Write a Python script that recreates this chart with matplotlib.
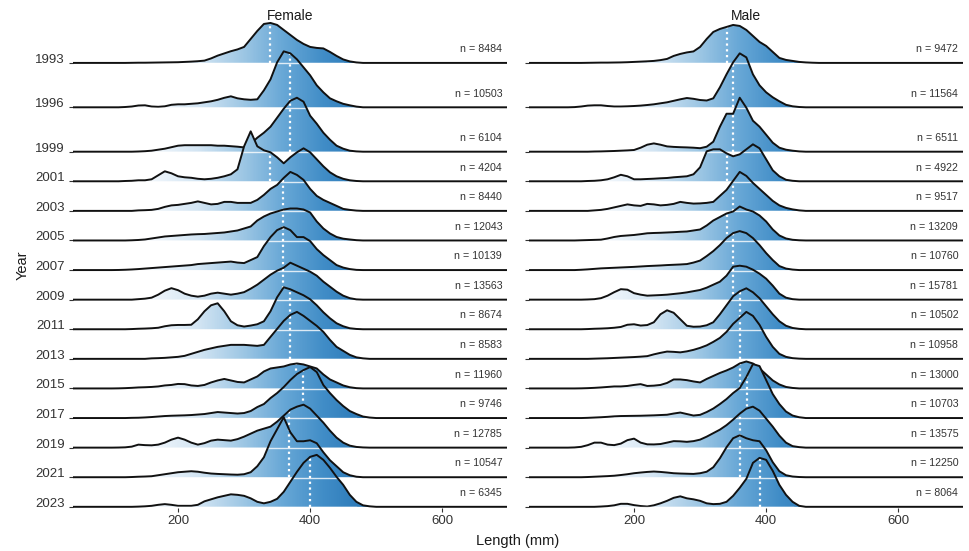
import numpy as np
import matplotlib
matplotlib.use("Agg")
import matplotlib.pyplot as plt
from matplotlib.colors import LinearSegmentedColormap, Normalize
from matplotlib.patches import Polygon
from matplotlib.transforms import blended_transform_factory

plt.rcParams['font.family'] = ['Liberation Sans', 'DejaVu Sans']

# ---------------- data ----------------
years = [1993, 1996, 1999, 2001, 2003, 2005, 2007, 2009, 2011, 2013, 2015, 2017, 2019, 2021, 2023]
lengths = [100, 110, 120, 130, 140, 150, 160, 170, 180, 190,
           200, 210, 220, 230, 240, 250, 260, 270, 280, 290,
           300, 310, 320, 330, 340, 350, 360, 370, 380, 390,
           400, 410, 420, 430, 440, 450, 460, 470, 480, 490,
           500]

# relative density heights at each length (one row per year)
female_density = [
    [0, 0, 0, 0.1, 0.2, 0.2, 0.3, 0.4, 0.5, 0.6,  0.7, 1, 1.3, 1.7, 2.3, 4.5, 7.3, 9.5, 11.7, 13.5,
     16, 24, 32, 39, 40, 38, 33, 28, 23, 19,  16, 15, 14.5, 11, 7, 3.5, 1.5, 0.5, 0, 0,  0],
    [0, 0, 0.3, 0.8, 1.8, 2, 0.8, 0.5, 1, 2.5,  3, 3, 3.5, 4, 5, 6, 7.5, 9.5, 11, 9,
     8, 7.5, 8, 17, 28, 45, 56, 54, 48, 40,  32, 22, 15, 9, 6, 3.5, 2, 0.7, 0, 0,  0],
    [0, 0, 0, 0, 0.2, 0.5, 1, 2, 3, 4.5,  6, 6.5, 6.5, 6.5, 6.5, 6.5, 6, 6, 5.5, 5,
     4.3, 8, 14, 19, 25, 34, 43, 51, 54, 50,  36, 28, 19, 12, 6, 3, 1, 0.3, 0, 0,  0],
    [0, 0, 0.3, 0.5, 1, 1, 2, 6, 10, 8,  5, 4, 3.5, 2.5, 2, 2.5, 3.5, 5, 7, 12,
     35, 50, 35, 31, 29, 24, 18, 24, 29, 33,  29, 22, 15, 9, 5, 2.5, 1, 0.3, 0, 0,  0],
    [0, 0, 0, 0, 0.5, 0.7, 1, 2, 4, 5.5,  6, 7, 8, 9.5, 8, 6.5, 7, 9, 9, 8,
     8, 8, 11, 16, 22, 26, 33, 39, 36, 31,  22, 15, 11, 8, 5, 2, 1, 0.3, 0, 0,  0],
    [0, 0, 0, 0.2, 0.5, 1, 2, 3, 4, 4.5,  5, 5.5, 6, 6.3, 6.5, 7, 7.5, 8, 9, 10,
     12, 14, 20, 24, 27, 29, 31, 32, 32, 31,  28, 19, 12, 7, 3.5, 1.8, 1, 0.3, 0, 0,  0],
    [0, 0.1, 0.3, 0.6, 1, 1.5, 2, 2.5, 3, 3.5,  4, 4.5, 5, 6, 6.5, 7, 7.5, 8, 8.5, 7.5,
     7, 10, 13, 24, 33, 40, 43, 40, 33, 33,  29, 21, 15, 10, 5, 2.5, 1, 0.2, 0, 0,  0],
    [0, 0, 0, 0, 0.5, 1, 2, 5, 9, 11.5,  9.5, 6, 4, 3, 4, 6, 7, 6, 5, 6,
     7.5, 11, 15, 20, 25, 29, 32, 37, 34, 31,  28, 24, 18, 13, 8, 4, 1.5, 0.3, 0, 0,  0],
    [0, 0, 0, 0.2, 0.5, 0.7, 1, 1.5, 3, 4,  4.3, 4.3, 4.5, 10, 18, 24, 26, 18, 8, 4,
     2.7, 3.7, 5, 8, 18, 32, 42, 40, 37, 34,  30, 24, 17, 11, 6, 3, 1, 0.3, 0, 0,  0],
    [0, 0, 0, 0, 0, 0, 0.5, 0.7, 1, 1.5,  2, 3, 5, 7, 9, 10.5, 12, 13, 14, 14,
     14, 13.5, 13, 14, 22, 30, 38, 44, 47, 43,  38, 33, 27, 19, 12, 8, 4, 1.5, 0.5, 0,  0],
    [0, 0.1, 0.3, 0.6, 1, 1.2, 1.5, 2, 3, 3.5,  4.5, 4.3, 3, 2.5, 3.5, 6, 8, 9.5, 8, 6.5,
     6, 9, 12, 17, 20, 21, 22, 24, 25, 24,  22, 20, 14, 9, 6, 3, 1.2, 0.3, 0, 0,  0],
    [0, 0, 0, 0.2, 0.3, 0.6, 1, 1.5, 2, 2.3,  2.5, 2.7, 3, 3.5, 4, 5, 6, 5.5, 5, 4.5,
     5, 7, 11, 14, 20, 25, 31, 38, 44, 48,  51, 46, 33, 25, 18, 12, 7, 4, 1.5, 0.5,  0],
    [0, 0.1, 0.3, 1, 3, 2.5, 2.3, 3, 5, 8,  10, 8, 5, 3, 4.5, 7, 8, 7.5, 7, 8.5,
     11, 14, 17, 19, 21, 26, 32, 38, 41, 43,  39, 32, 25, 17, 10, 5, 2, 0.7, 0.2, 0,  0],
    [0, 0, 0, 0.2, 0.5, 0.7, 1, 2, 3, 4,  5, 5.5, 6, 5.5, 4.5, 3.7, 3.3, 3, 2.7, 2.5,
     3, 5, 11, 20, 36, 48, 60, 45, 36, 36,  37, 34, 25, 17, 11, 5, 2, 0.5, 0, 0,  0],
    [0, 0, 0, 0, 0.2, 0.5, 1, 2, 2.7, 2,  1, 1, 1, 2, 5.5, 7.5, 9.5, 11, 12.5, 12,
     11, 8.5, 5, 3.5, 5, 8, 15, 25, 35, 44,  50, 52, 47, 39, 30, 22, 12, 5, 1.5, 0.5,  0],
]
male_density = [
    [0, 0, 0, 0.1, 0.2, 0.3, 0.3, 0.4, 0.5, 0.7,  1, 1.3, 1.6, 2, 2.8, 4, 7, 9, 10.5, 11.5,
     16, 24, 31, 34, 36, 38, 37, 33, 27, 21,  17, 11, 5, 3, 2, 1, 0.5, 0.2, 0, 0,  0],
    [0, 0.2, 0.8, 1.7, 2, 2, 1.3, 0.8, 0.8, 1,  1.3, 1.7, 2.3, 3, 4, 5, 6.5, 8, 9.3, 8.5,
     7.3, 6.8, 9, 20, 33, 45, 54, 50, 33, 22,  15, 10, 6, 2.5, 1, 0.3, 0, 0, 0, 0,  0],
    [0, 0, 0, 0, 0.2, 0.3, 0.5, 0.7, 1, 1.3,  1.7, 4, 7, 8.3, 7, 5.3, 4.8, 4.5, 4.3, 4,
     3.5, 5, 10, 25, 38, 38, 54, 44, 31, 25,  17, 9, 4, 2, 1, 0.3, 0, 0, 0, 0,  0],
    [0, 0, 0, 0.3, 0.5, 1, 2, 4, 6.5, 5,  2, 2, 2.3, 2.6, 3, 3.3, 4, 4.5, 5, 7,
     14, 30, 32, 32, 28, 25, 27, 32, 37, 33,  22, 11, 5, 1.5, 0.5, 0, 0, 0, 0, 0,  0],
    [0, 0, 0, 0, 0.5, 1, 2, 3.5, 5, 6.5,  5.5, 5, 7, 6.5, 5.5, 6, 7, 9, 8, 7.3,
     7.5, 8, 9, 15, 21, 30, 39, 35, 28, 22,  16, 10, 5.5, 3, 1.5, 0.5, 0, 0, 0, 0,  0],
    [0, 0, 0.2, 0.4, 0.6, 0.8, 2, 3.5, 4.5, 5,  5.5, 6.3, 7.2, 7.5, 7.7, 8, 8.3, 8.7, 9, 10,
     11, 15, 20, 23.5, 27, 29, 34, 31, 29, 25,  19, 11, 5, 2, 0.7, 0.2, 0, 0, 0, 0,  0],
    [0, 0, 0.3, 0.7, 1.2, 1.7, 2, 2.3, 2.6, 2.9,  3.2, 3.6, 4, 4.3, 4.6, 5, 5.3, 5.6, 6, 7.5,
     9.5, 14, 19, 25, 32, 37, 39, 37, 32, 25,  17, 10, 4, 1.5, 0.5, 0, 0, 0, 0, 0,  0],
    [0, 0, 0, 0.2, 0.5, 1.5, 4, 7.5, 10.5, 10,  6.5, 5, 4, 4.3, 4.6, 5, 5.7, 6.4, 7.3, 8.5,
     9.7, 12, 15, 18, 24, 33, 34, 33, 30, 26,  21, 14, 6, 2, 0.5, 0, 0, 0, 0, 0,  0],
    [0, 0, 0, 0.2, 0.5, 0.7, 1, 1.5, 2.3, 4.5,  5, 3.7, 4.2, 7, 15, 19, 16.5, 10, 3.5, 2.5,
     2.7, 4, 7, 15, 24, 33, 38, 41, 37, 31,  23, 15, 8, 3.5, 1.3, 0.4, 0, 0, 0, 0,  0],
    [0, 0, 0, 0, 0.2, 0.4, 0.6, 0.9, 1.2, 1.5,  1.8, 2.2, 2.7, 4.5, 6, 7.3, 7, 6.5, 7.5, 9,
     11, 13.5, 17, 21, 27, 35, 41, 47, 43, 34,  22, 12, 5, 2, 0.7, 0.2, 0, 0, 0, 0,  0],
    [0, 0, 0.1, 0.3, 0.6, 1, 1.5, 2, 2, 2.5,  3.5, 4.3, 2.5, 2.8, 3.5, 5.5, 9, 9, 8.3, 7,
     6, 9.5, 12.5, 15.5, 18, 21, 25, 27, 25, 20,  14, 8, 4, 1.5, 0.5, 0, 0, 0, 0, 0,  0],
    [0, 0, 0, 0.2, 0.5, 0.8, 1.2, 1.7, 2, 2.1,  2.2, 2.3, 2.5, 2.7, 3, 3.3, 4.5, 5.5, 4, 2.5,
     3.2, 6, 9.5, 14, 19, 25, 30, 41, 54, 52,  38, 24, 14, 6.5, 2.5, 0.8, 0, 0, 0, 0,  0],
    [0, 0.2, 0.8, 2.5, 5, 5, 3, 2.5, 4, 7.5,  9, 5, 3.3, 3.2, 3.6, 5, 6.5, 6.3, 5.8, 6.5,
     8, 11, 14.5, 18, 22.5, 28, 34, 39, 41, 37,  29, 21, 12, 5, 1.5, 0.5, 0, 0, 0, 0,  0],
    [0, 0, 0, 0.2, 0.5, 0.8, 1.1, 1.5, 2.2, 3,  4, 4.7, 5.3, 5.7, 5.3, 4.7, 4, 3.7, 3.5, 3.3,
     4, 5.5, 10, 19, 30, 39, 42, 39, 37, 36,  27, 15, 6, 2, 0.7, 0.2, 0, 0, 0, 0,  0],
    [0, 0, 0, 0, 0, 0.3, 0.7, 1.5, 3, 3,  1.7, 0.8, 0.3, 1.5, 3.5, 6, 9, 10.5, 8.5, 7.5,
     6, 3.5, 2.7, 3, 5, 11, 19, 28, 44, 49,  47, 36, 22, 12, 5, 1, 0, 0, 0, 0,  0],
]
female_median = [339, 370, 370, 339, 359, 359, 359, 359, 370, 370, 379, 389, 368, 368, 400]
male_median = [341, 350, 350, 341, 350, 341, 350, 350, 361, 361, 361, 371, 361, 361, 391]
female_n = [8484, 10503, 6104, 4204, 8440, 12043, 10139, 13563, 8674, 8583, 11960, 9746, 12785, 10547, 6345]
male_n = [9472, 11564, 6511, 4922, 9517, 13209, 10760, 15781, 10502, 10958, 13000, 10703, 13575, 12250, 8064]
x_ticks = [200, 400, 600]

# ---------------- layout ----------------
W, H = 970, 551
fig = plt.figure(figsize=(W / 100, H / 100), dpi=100)


def px_axes(l, t, r, b):
    return [l / W, 1 - b / H, (r - l) / W, (b - t) / H]


ax_f = fig.add_axes(px_axes(73, 20, 507, 508))
ax_m = fig.add_axes(px_axes(529, 20, 963, 508))

XMIN, XMAX = 41, 698
YTOP, YBOT = 1990.1, 2023.08
PX_PER_YEAR = 14.81

stops = [(150, '#f5f9fd'), (230, '#d3e5f3'), (300, '#9cc6e4'), (360, '#67a7d6'),
         (420, '#418dc7'), (480, '#2b79b8')]
cm_list = [(0.0, stops[0][1])] + [((v - XMIN) / (XMAX - XMIN), c) for v, c in stops] + [(1.0, stops[-1][1])]
cmap = LinearSegmentedColormap.from_list('ridgeblue', cm_list)
grad = np.linspace(XMIN, XMAX, 900).reshape(1, -1)


def draw_panel(ax, dens_rows, medians, ns, title, show_year_labels):
    xs = np.array([XMIN] + lengths + [XMAX], dtype=float)
    for i, (yr, row, med, n) in enumerate(zip(years, dens_rows, medians, ns)):
        h = np.array([0] + list(row) + [0], dtype=float)
        yy = yr - h / PX_PER_YEAR
        z = 10 + 4 * i
        verts = list(zip(xs, yy)) + [(XMAX, yr), (XMIN, yr)]
        poly = Polygon(verts, closed=True, transform=ax.transData, facecolor='none', edgecolor='none')
        im = ax.imshow(grad, cmap=cmap, norm=Normalize(XMIN, XMAX), extent=[XMIN, XMAX, 2024, 1989],
                       aspect='auto', interpolation='bilinear', zorder=z)
        im.set_clip_path(poly)
        # median line
        hm = np.interp(med, xs, h)
        ax.plot([med, med], [yr, yr - hm / PX_PER_YEAR], color='white', lw=1.6,
                linestyle=(0, (1, 1.6)), zorder=z + 1, solid_capstyle='butt')
        # outline
        ax.plot(xs, yy, color='#111111', lw=1.4, zorder=z + 2, solid_joinstyle='round')
        # light seam along baseline where fill exists
        mask = h > 1.5
        if mask.any():
            xa, xb = xs[mask].min(), xs[mask].max()
            ax.plot([xa, xb], [yr + 0.03, yr + 0.03], color='white', lw=1.0, alpha=0.8, zorder=z + 4.5)
        ax.text(0.989, yr - 0.93, f"n = {n}", transform=blended_transform_factory(ax.transAxes, ax.transData),
                ha='right', va='center', fontsize=7.7, color='#333333', zorder=200)

    ax.set_xlim(XMIN, XMAX)
    ax.set_ylim(YBOT, YTOP)
    for s in ax.spines.values():
        s.set_visible(False)
    ax.set_xticks(x_ticks)
    ax.set_xticklabels([str(t) for t in x_ticks])
    ax.set_yticks(years)
    if show_year_labels:
        ax.set_yticklabels([str(y) for y in years])
        for lbl in ax.get_yticklabels():
            lbl.set_verticalalignment('baseline')
    else:
        ax.set_yticklabels([])
    ax.tick_params(axis='both', length=3, width=0.8, color='#333333', labelcolor='#333333', labelsize=9.5)
    ax.tick_params(axis='x', pad=2)
    ax.tick_params(axis='y', pad=3)
    ax.text(0.5, 1.008, title, transform=ax.transAxes, ha='center', va='center', fontsize=10,
            color='#1a1a1a', zorder=300)


draw_panel(ax_f, female_density, female_median, female_n, 'Female', True)
draw_panel(ax_m, male_density, male_median, male_n, 'Male', False)

fig.text(518 / W, 1 - 541 / H, 'Length (mm)', ha='center', va='center', fontsize=10.5, color='#1a1a1a')
fig.text(23 / W, 1 - 265 / H, 'Year', ha='center', va='center', rotation=90, fontsize=10.5, color='#1a1a1a')

fig.savefig('out.png', dpi=100)
